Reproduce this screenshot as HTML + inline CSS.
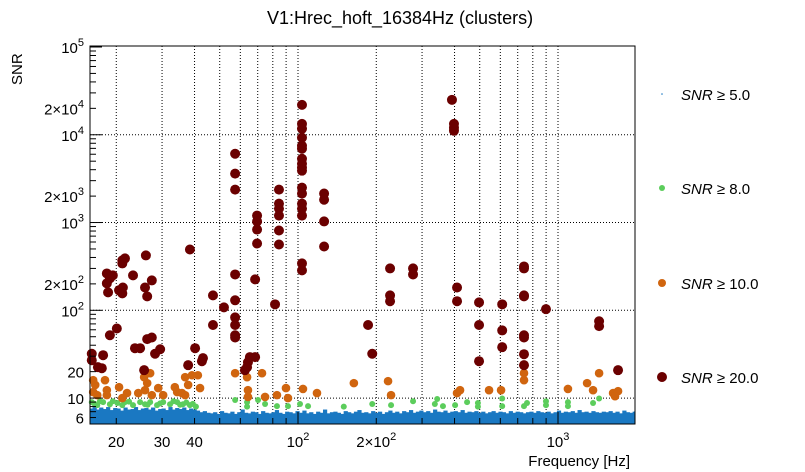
<!DOCTYPE html>
<html><head><meta charset="utf-8"><style>
html,body{margin:0;padding:0;background:#fff;}
svg{display:block;font-family:"Liberation Sans",sans-serif;}
</style></head><body>
<svg id="chart" width="805" height="472" viewBox="0 0 805 472" xmlns="http://www.w3.org/2000/svg">
<text x="400" y="24" text-anchor="middle" font-size="18">V1:Hrec_hoft_16384Hz (clusters)</text>
<g id="grid"></g>
<g id="blue"></g>
<g id="green"></g>
<g id="orange"></g>
<g id="red"></g>
<rect x="90" y="46" width="545" height="378" fill="none" stroke="#000" stroke-width="1"/>
<g id="axes"></g>
<text x="630" y="466" text-anchor="end" font-size="15">Frequency [Hz]</text>
<text transform="translate(22,85) rotate(-90)" font-size="15">SNR</text>
<g id="legend">
<circle cx="662" cy="94" r="0.8" fill="#1a78c2"/>
<text x="681" y="100" font-size="15"><tspan font-style="italic">SNR</tspan> ≥ 5.0</text>
<circle cx="662" cy="188" r="3" fill="#5ccd5c"/>
<text x="681" y="194" font-size="15"><tspan font-style="italic">SNR</tspan> ≥ 8.0</text>
<circle cx="662" cy="283" r="4" fill="#d0650f"/>
<text x="681" y="289" font-size="15"><tspan font-style="italic">SNR</tspan> ≥ 10.0</text>
<circle cx="662" cy="377" r="5" fill="#6b0000"/>
<text x="681" y="383" font-size="15"><tspan font-style="italic">SNR</tspan> ≥ 20.0</text>
</g>
</svg>
<script>
const redF=[18.4,18.9,19.4,18.4,18.6,21.1,21.6,21.1,21.2,21.1,20.5,23.2,26.0,25.8,26.3,27.4,38.4,47.1,51.9,47.1,57.3,57.3,57.3,57.3,57.3,57.3,57.3,68.4,69.6,69.6,69.6,69.6,81.6,84.5,84.5,84.5,84.5,84.5,84.5,103.6,103.6,103.6,103.6,103.6,103.6,103.6,103.6,103.6,103.6,103.6,103.6,103.6,103.6,103.6,103.6,103.6,126,126,126,126,186,193,226,226,226,277,277,391,398,398,398,409,409,497,497,497,610,610,610,740,740,740,740,740,740,740,740,899,1439,1439,1702,16.1,16.1,17.8,17.0,17.6,18.9,20.1,23.6,24.7,26.3,27.4,28.2,29.5,25.6,40.2,37.8,42.7,43.1,57.3,57.3,62.5,64.2,65.3,68.4,63.7];
const redS=[263,231,250,203,160,370,390,342,182,156,169,250,422,182,144,219,493,148,108,68,6080,3610,2370,256,130,83,68,225,1200,1030,832,577,117,2370,1640,1440,1200,811,562,21900,13300,11700,9250,7500,6930,5330,4680,4210,3900,2500,2140,1640,1440,1200,342,285,2140,1820,1030,533,68,32,300,148,127,300,256,25000,13300,12000,11100,182,127,123,68,26.3,117,59,38,316,300,148,144,52,49,31.6,23.7,103,75,66,20.8,32,27,30.8,22.5,21.9,52,62,37,37,47,49,32,36,20.8,37,23.7,26.3,28.5,49,52,20.8,25.6,29.3,29.3,22.5];
const orangeF=[16.3,16.6,16.3,16.9,18.1,18.4,18.4,20.5,21.1,22.0,24.3,25.6,26.3,25.8,27.0,27.4,29.0,30.3,33.6,34.3,35.8,36.8,37.8,39.1,41.2,42.0,36.8,57.3,63.7,64.2,64.2,72.7,74.7,83.0,89.9,91.5,104.5,118.3,164,222,228,409,420,543,604,740,740,1092,1294,1364,1439,1629,1702,1657];
const orangeS=[16.0,14.1,11.7,10.8,16.0,12.3,10.8,13.3,10.0,11.4,11.4,17.3,14.8,12.3,19.2,10.8,13.0,10.8,13.3,11.7,11.4,17.3,14.1,18.2,18.2,13.0,10.8,19.2,17.3,12.3,10.3,19.2,10.3,10.8,13.0,10.0,12.7,11.4,14.8,15.6,10.8,11.4,12.3,12.3,12.3,19.2,16.0,12.7,14.8,12.3,19.2,11.4,12.0,10.5];
const greenF=[16.1,16.9,17.8,18.9,19.4,21.1,21.6,23.2,24.7,25.8,27.0,28.7,30.3,32.2,34.3,36.1,38.4,40.5,16.5,17.3,20.2,22.4,26.4,29.5,33.2,35.2,37.2,39.4,57.3,63.7,63.7,70.2,74.7,83.0,91.5,101.8,109.3,150,193,228,277,336,343,361,402,447,492,492,610,610,740,760,899,899,1092,1092,1364,1439];
const greenS=[9.0,8.3,9.0,8.5,9.2,8.3,9.0,8.3,9.0,8.5,9.0,8.3,9.0,8.5,9.0,8.5,8.3,8.0,8.6,9.2,8.8,9.1,8.4,8.7,9.2,8.4,8.9,8.6,9.5,9.0,8.0,9.5,8.55,8.1,8.1,8.55,8.1,8.0,8.55,8.3,9.2,8.55,9.75,8.1,8.3,9.0,8.8,8.0,9.9,8.1,8.1,8.8,9.2,8.3,9.0,8.1,8.8,9.9];
const blueF=[16,16.5,17,17.5,18,18.6,19.2,19.8,20.4,21,21.7,22.4,23.1,23.8,24.5,25.3,26.1,26.9,27.7,28.6,29.5,30.4,31.3,32.3,33.3,34.3,35.4,36.5,37.6,38.8,40,41.2,42.5,43.8,45.2,46.6,48,49.5,51,52.6,54.2,55.9,57.6,59.4,61.2,63.1,65,67,69.1,71.2,73.4,75.7,78,80.4,82.9,85.5,88.1,90.8,93.6,96.5,99.5,102.6,105.8,109,112.4,115.9,119.5,123.2,127,130.9,135,139.2,143.5,147.9,152.5,157.2,162,167,172.2,177.5,183,188.7,194.5,200.5,206.7,213.1,219.7,226.5,233.5,240.7,248.2,255.9,263.8,272,280.4,289,298,307.2,316.7,326.5,336.6,347,357.8,368.9,380.3,392,404,416.6,429.5,442.8,456.5,470.6,485.2,500.2,515.7,531.6,548,565,582.5,600.5,619,638.2,658,678.3,699.3,721,743.3,766.3,790,814.4,839.6,865.6,892.4,920,948.5,977.8,1008,1039,1071,1105,1139,1174,1210,1248,1287,1327,1368,1410,1454,1499,1545,1593,1642,1693,1745,1799,1855,1912,1971,2000];
const blueS=[7.6,7.9,7.4,7.8,7.5,7.9,7.3,7.7,7.6,7.2,7.8,7.4,7.5,7.9,7.3,7.6,7.7,7.4,7.8,7.2,7.5,7.6,7.3,7.9,7.4,7.7,7.5,7.8,7.3,7.6,7.4,7.2,6.9,7.1,6.8,
6.7,6.9,6.6,7.1,6.8,6.7,7.0,6.6,6.9,7.4,6.8,6.7,7.0,6.9,6.6,7.1,6.8,6.7,6.9,7.3,6.8,6.6,7.0,6.9,6.7,7.1,6.8,7.2,6.7,6.9,6.6,7.0,6.8,7.4,6.7,6.9,7.0,6.8,6.6,7.1,6.9,6.7,7.0,7.3,6.8,6.9,6.7,7.1,6.8,7.0,6.6,6.9,7.2,6.8,7.0,6.7,7.1,6.9,7.3,6.8,7.0,7.2,6.9,7.1,6.8,7.4,7.0,6.9,7.2,6.8,7.0,7.1,6.9,7.3,6.8,7.0,6.9,7.1,6.8,7.0,6.7,6.9,7.1,6.8,7.0,6.9,6.7,7.1,6.8,7.0,6.9,6.7,6.9,7.0,6.8,7.1,6.9,6.8,7.0,6.7,6.9,7.2,6.8,7.0,6.9,7.1,6.8,7.3,6.9,7.0,6.8,7.1,6.9,6.8,7.0,
6.9,7.1,6.8,7.0,6.7,7.2,6.9,6.8,7.0,7.1,6.9,6.8,7.2,7.0,6.9,7.1,6.8,7.0,6.9,7.1];

const yTickVals=[100000,20000,10000,2000,1000,200,100,20,10,6];
const yTickLabels=['10<tspan dy="-7" font-size="11">5</tspan>','2×10<tspan dy="-7" font-size="11">4</tspan>','10<tspan dy="-7" font-size="11">4</tspan>','2×10<tspan dy="-7" font-size="11">3</tspan>','10<tspan dy="-7" font-size="11">3</tspan>','2×10<tspan dy="-7" font-size="11">2</tspan>','10<tspan dy="-7" font-size="11">2</tspan>','20','10','6'];
const xTickVals=[20,30,40,100,200,1000];
const xTickLabels=['20','30','40','10<tspan dy="-7" font-size="11">2</tspan>','2×10<tspan dy="-7" font-size="11">2</tspan>','10<tspan dy="-7" font-size="11">3</tspan>'];

const X0=90,X1=635,Y0=424,Y1=46;
const LXMIN=1.2,LXMAX=1.2+545/260;
const LYMIN=1-26/88,LYMAX=5.0+1/88;
function xs(f){return X0+(Math.log10(f)-LXMIN)/(LXMAX-LXMIN)*(X1-X0);}
function ys(v){return Y0-(Math.log10(v)-LYMIN)/(LYMAX-LYMIN)*(Y0-Y1);}
const NS='http://www.w3.org/2000/svg';
function mk(tag,attrs,parent){const e=document.createElementNS(NS,tag);for(const k in attrs)e.setAttribute(k,attrs[k]);parent.appendChild(e);return e;}

const grid=document.getElementById('grid');
for(let d=1;d<=3;d++){for(let m=1;m<=9;m++){const f=m*Math.pow(10,d);const x=xs(f);if(x<=X0+0.5||x>=X1)continue;
 const l=mk('line',{x1:x,x2:x,y1:Y1,y2:Y0,stroke:'#000','stroke-width':1,'stroke-dasharray':'1,2'},grid);
 
 }}
for(let d=1;d<=4;d++){const y=ys(Math.pow(10,d));
 const l=mk('line',{x1:X0,x2:X1,y1:y,y2:y,stroke:'#000','stroke-width':1,'stroke-dasharray':'1,2'},grid);
 
 }

const blue=document.getElementById('blue');
const nb=Math.min(blueF.length,blueS.length);
for(let i=0;i<nb;i++){const x=xs(blueF[i]);const y=ys(blueS[i]);
 const x0=Math.max(X0,x-2);const x1=Math.min(X1,x+2.2);
 const r=mk('rect',{x:x0,y:y,width:Math.max(0,x1-x0),height:Math.max(0,Y0-y),fill:'#1a78c2'},blue);
 
 }
function dots(g,F,S,r,c,name){const n=Math.min(F.length,S.length);for(let i=0;i<n;i++){
 const e=mk('circle',{cx:xs(F[i]),cy:ys(S[i]),r:r,fill:c},g);
 
 }}
dots(document.getElementById('green'),greenF,greenS,3,'#5ccd5c','snr8-point');
dots(document.getElementById('orange'),orangeF,orangeS,4.3,'#d0650f','snr10-point');
dots(document.getElementById('red'),redF,redS,5,'#6b0000','snr20-point');

const axes=document.getElementById('axes');
for(let d=0;d<=5;d++){for(let m=1;m<=9;m++){const v=m*Math.pow(10,d);const y=ys(v);if(y>Y0||y<Y1-0.5)continue;
 const len=(m===1)?12:6;
 const t=mk('line',{x1:X0,x2:X0+len,y1:y,y2:y,stroke:'#000','stroke-width':1},axes);
 
 }}
for(let d=1;d<=3;d++){for(let m=1;m<=9;m++){const f=m*Math.pow(10,d);const x=xs(f);if(x<X0||x>X1)continue;
 const len=(m===1)?12:6;
 const t=mk('line',{x1:x,x2:x,y1:Y0,y2:Y0-len,stroke:'#000','stroke-width':1},axes);
 
 }}
for(let i=0;i<yTickVals.length;i++){
 const t=mk('text',{x:84,y:ys(yTickVals[i])+6,'text-anchor':'end','font-size':15},axes);
 t.innerHTML=yTickLabels[i];
 
 }
for(let i=0;i<xTickVals.length;i++){
 const t=mk('text',{x:xs(xTickVals[i]),y:447,'text-anchor':'middle','font-size':15},axes);
 t.innerHTML=xTickLabels[i];
 
 }
</script>
</body></html>
